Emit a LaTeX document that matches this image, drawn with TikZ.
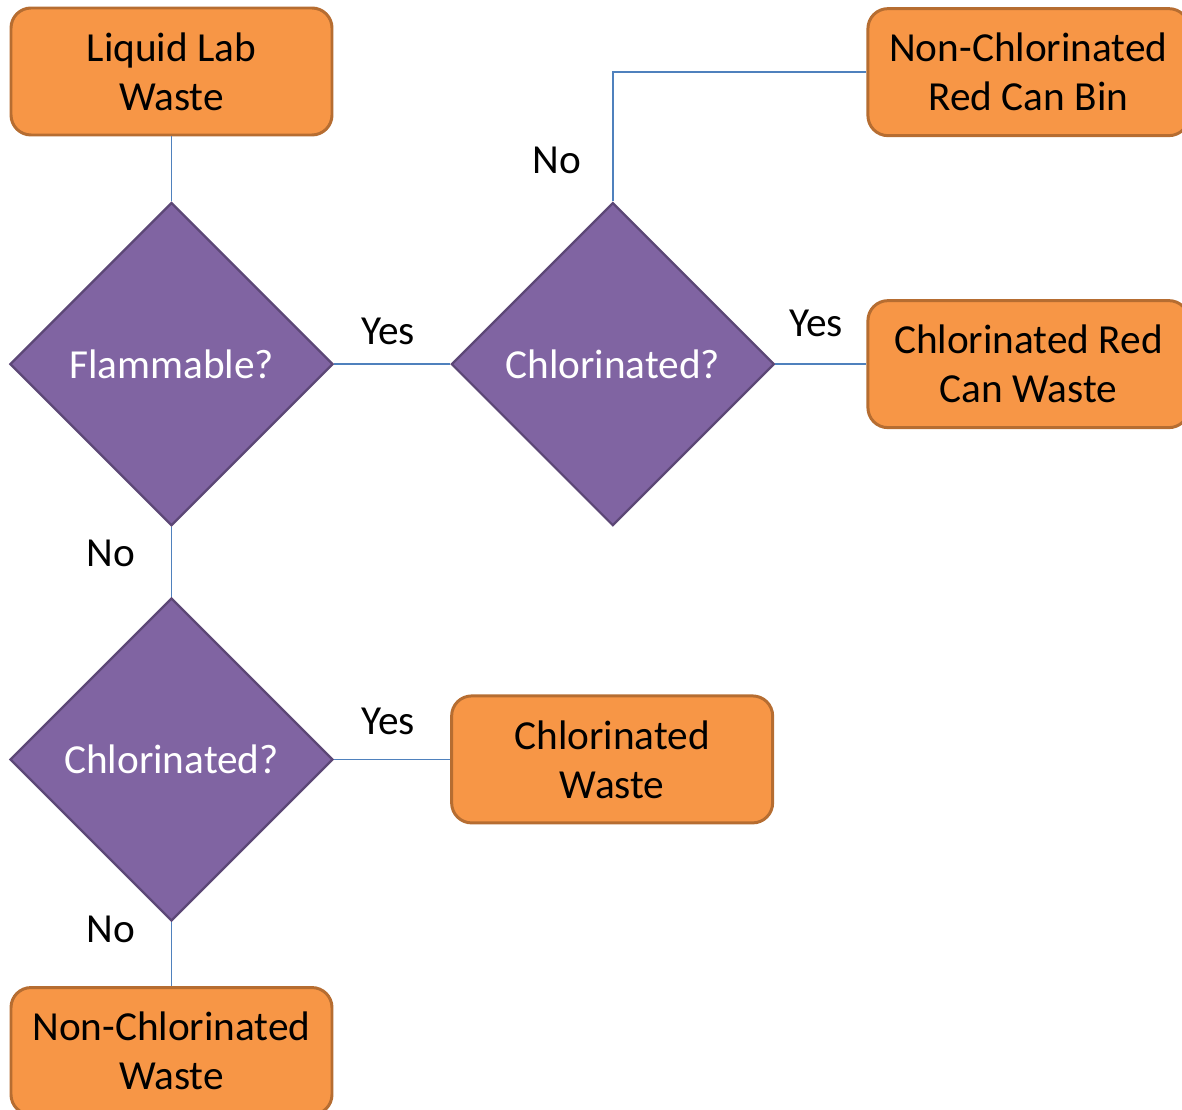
\documentclass[tikz,border=0pt]{standalone}
\usepackage{fontspec}
\setmainfont{Carlito}
\usetikzlibrary{positioning,shapes.geometric}

\definecolor{boxfill}{HTML}{F79646}
\definecolor{boxline}{HTML}{B66D31}
\definecolor{decfill}{HTML}{8064A2}
\definecolor{decline}{HTML}{5C4776}
\definecolor{linkblue}{HTML}{4F81BD}

\begin{document}
\begin{tikzpicture}[
    every node/.style={font=\fontsize{23.5}{28}\selectfont},
    block/.style={draw=boxline, fill=boxfill, line width=1.7pt, rectangle, rounded corners=0.4cm, align=center, minimum width=6.42cm, minimum height=2.54cm},
    decision/.style={draw=decline, fill=decfill, line width=1.3pt, diamond, text=white, minimum width=6.46cm, minimum height=6.46cm, inner sep=0pt},
    link/.style={draw=linkblue, line width=0.9pt}
]
\useasboundingbox (0,0) rectangle (23.64,-22.2);
\clip (0,0) rectangle (23.64,-22.2);

\node[block] (start) at (3.43,-1.43) {Liquid Lab\\Waste};
\node[decision, below=1.3cm of start] (flam) {Flammable?};
\node[decision, right=2.32cm of flam] (chlortop) {Chlorinated?};
\node[block, right=1.82cm of chlortop] (redwaste) {Chlorinated Red\\Can Waste};
\node[block, above=3.24cm of redwaste] (redbin) {Non-Chlorinated\\Red Can Bin};
\node[decision, below=1.4cm of flam] (chlorlow) {Chlorinated?};
\node[block, right=2.32cm of chlorlow] (chlwaste) {Chlorinated\\Waste};
\node[block, below=1.28cm of chlorlow] (nonchl) {Non-Chlorinated\\Waste};

\draw[link] (start) -- (flam);
\draw[link] (flam) -- node[above=0.26cm, xshift=-0.08cm] {Yes} (chlortop);
\draw[link] (chlortop.north) |- node[pos=0.16, left=0.5cm] {No} (redbin.west);
\draw[link] (chlortop) -- node[above=0.42cm, xshift=-0.1cm] {Yes} (redwaste);
\draw[link] (flam) -- node[pos=0.38, left=0.6cm] {No} (chlorlow);
\draw[link] (chlorlow) -- node[above=0.36cm, xshift=-0.08cm] {Yes} (chlwaste);
\draw[link] (chlorlow) -- node[pos=0.12, left=0.6cm] {No} (nonchl);
\end{tikzpicture}
\end{document}
